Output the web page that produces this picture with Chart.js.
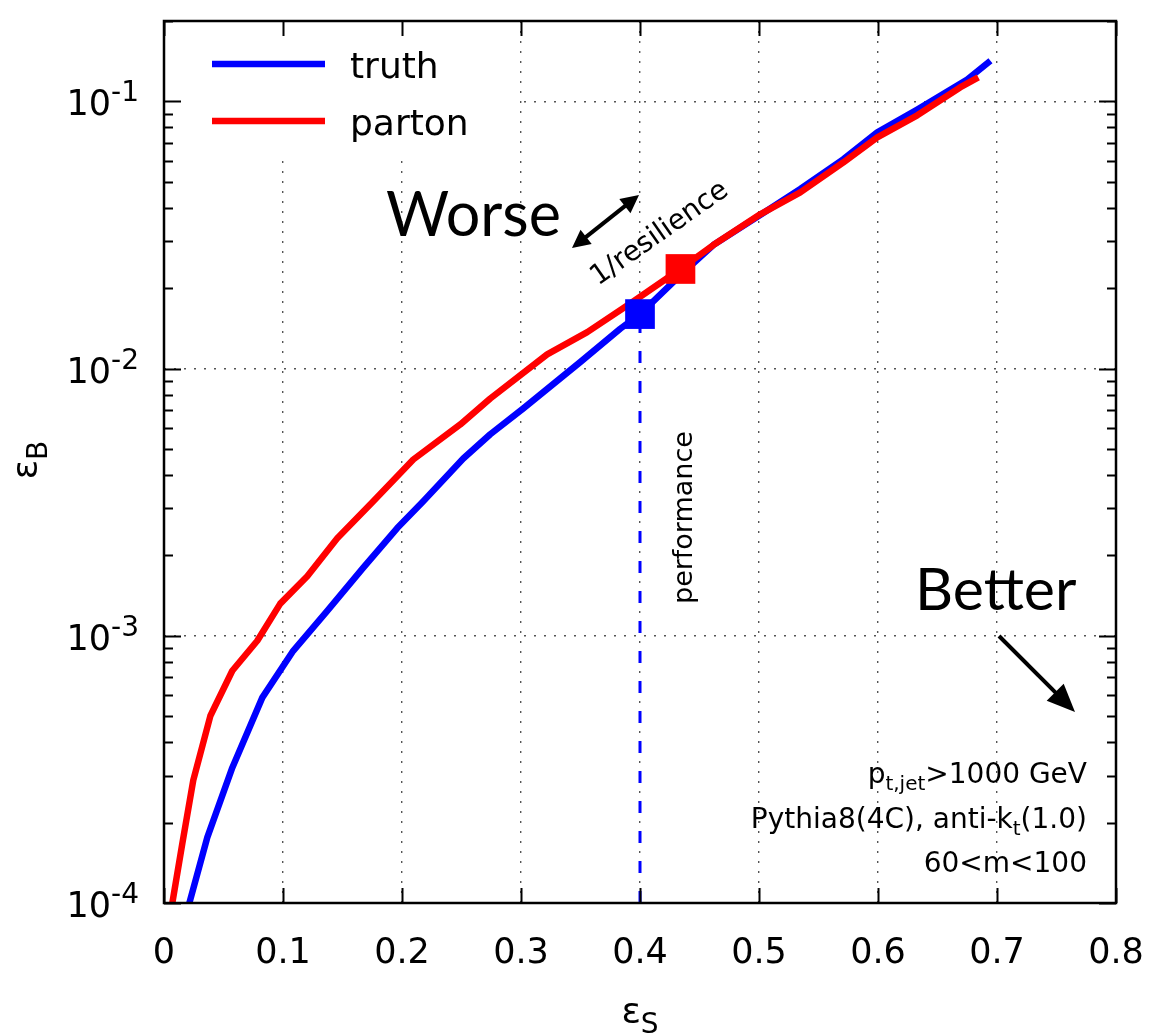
<!DOCTYPE html>
<html>
<head>
<meta charset="utf-8">
<script src="https://cdn.jsdelivr.net/npm/chart.js@4/dist/chart.umd.min.js"></script>
<style>
  html, body { margin: 0; padding: 0; background: #fff; }
  canvas { display: block; }
</style>
</head>
<body>
<canvas id="roc" width="1156" height="1035"></canvas>
<script>
// Signal efficiency (eps_S) and background efficiency (eps_B) along each curve
const truthEffS  = [0.0213, 0.0364, 0.0574, 0.0826, 0.1086, 0.1372, 0.1675, 0.196, 0.2179, 0.2515, 0.2742, 0.302, 0.350, 0.3834, 0.400, 0.434, 0.4616, 0.501, 0.5347, 0.571, 0.5994, 0.633, 0.675, 0.6945];
const truthEffB  = [1.0e-4, 1.76e-4, 3.21e-4, 5.87e-4, 8.79e-4, 1.24e-3, 1.80e-3, 2.53e-3, 3.19e-3, 4.61e-3, 5.68e-3, 7.10e-3, 1.06e-2, 1.41e-2, 1.60e-2, 2.24e-2, 2.90e-2, 3.76e-2, 4.70e-2, 6.08e-2, 7.66e-2, 9.33e-2, 0.1208, 0.142];
const partonEffS = [0.007, 0.0154, 0.0246, 0.039, 0.0574, 0.0784, 0.0977, 0.1204, 0.1456, 0.1759, 0.2095, 0.249, 0.2742, 0.322, 0.3557, 0.394, 0.434, 0.4616, 0.501, 0.5347, 0.571, 0.5994, 0.633, 0.669, 0.6843];
const partonEffB = [1.0e-4, 1.67e-4, 2.88e-4, 5.02e-4, 7.40e-4, 9.58e-4, 1.32e-3, 1.67e-3, 2.32e-3, 3.19e-3, 4.57e-3, 6.18e-3, 7.73e-3, 1.13e-2, 1.37e-2, 1.78e-2, 2.36e-2, 2.90e-2, 3.78e-2, 4.57e-2, 5.92e-2, 7.34e-2, 8.87e-2, 0.1128, 0.123];

// Working points (truth, parton)
const workingS = [0.400, 0.434];
const workingB = [0.0160, 0.0236];

const seriesNames  = ['truth', 'parton'];
const seriesColors = ['#0000ff', '#ff0000'];

// Axis ticks
const xTickValues = [0, 0.1, 0.2, 0.3, 0.4, 0.5, 0.6, 0.7, 0.8];
const xTickLabels = ['0', '0.1', '0.2', '0.3', '0.4', '0.5', '0.6', '0.7', '0.8'];
const yDecades    = [1e-4, 1e-3, 1e-2, 1e-1];
const yExponents  = ['-4', '-3', '-2', '-1'];

const FONT = '"DejaVu Sans", sans-serif';
const BIG  = 'Lato, "Open Sans", sans-serif';

const pairs = (xs, ys) => xs.map((x, i) => ({ x, y: ys[i] }));

// draw a run of text pieces (text, size, baseline shift) one after another
function textRuns(ctx, runs, x, y, align) {
  let total = 0;
  const widths = runs.map(r => {
    ctx.font = r[1] + 'px ' + FONT;
    const w = ctx.measureText(r[0]).width;
    total += w;
    return w;
  });
  let cx = align === 'right' ? x - total : align === 'center' ? x - total / 2 : x;
  ctx.textAlign = 'left';
  ctx.textBaseline = 'alphabetic';
  runs.forEach((r, i) => {
    ctx.font = r[1] + 'px ' + FONT;
    ctx.fillText(r[0], cx, y + r[2]);
    cx += widths[i];
  });
}

function arrowHead(ctx, x0, y0, x1, y1, len, half) {
  const a = Math.atan2(y1 - y0, x1 - x0);
  ctx.beginPath();
  ctx.moveTo(x1, y1);
  ctx.lineTo(x1 - len * Math.cos(a) + half * Math.sin(a), y1 - len * Math.sin(a) - half * Math.cos(a));
  ctx.lineTo(x1 - len * Math.cos(a) - half * Math.sin(a), y1 - len * Math.sin(a) + half * Math.cos(a));
  ctx.closePath();
  ctx.fill();
}

function arrowLine(ctx, x0, y0, x1, y1, len, half, both) {
  const a = Math.atan2(y1 - y0, x1 - x0);
  const sx = both ? x0 + (len - 2) * Math.cos(a) : x0;
  const sy = both ? y0 + (len - 2) * Math.sin(a) : y0;
  ctx.beginPath();
  ctx.moveTo(sx, sy);
  ctx.lineTo(x1 - (len - 2) * Math.cos(a), y1 - (len - 2) * Math.sin(a));
  ctx.stroke();
  arrowHead(ctx, x0, y0, x1, y1, len, half);
  if (both) arrowHead(ctx, x1, y1, x0, y0, len, half);
}

const decorations = {
  id: 'decorations',
  beforeDatasetsDraw(chart) {
    // white key panel over the grid
    const { ctx, chartArea: a } = chart;
    ctx.save();
    ctx.fillStyle = '#ffffff';
    ctx.fillRect(a.left + 1, a.top + 1, 352, 136);
    ctx.restore();
  },
  afterDraw(chart) {
    const { ctx, chartArea: a, scales: { x, y } } = chart;
    ctx.save();
    ctx.fillStyle = '#000';
    ctx.strokeStyle = '#000';

    // tick marks, pointing inwards on all four sides
    ctx.lineWidth = 2;
    ctx.beginPath();
    xTickValues.forEach(v => {
      const px = Math.round(x.getPixelForValue(v)) + 0.5;
      ctx.moveTo(px, a.bottom); ctx.lineTo(px, a.bottom - 15);
      ctx.moveTo(px, a.top);    ctx.lineTo(px, a.top + 15);
    });
    yDecades.forEach(d => {
      const py = Math.round(y.getPixelForValue(d)) + 0.5;
      ctx.moveTo(a.left, py);  ctx.lineTo(a.left + 17, py);
      ctx.moveTo(a.right, py); ctx.lineTo(a.right - 17, py);
      for (let m = 2; m <= 9; m++) {
        const v = m * d;
        if (v > y.max) break;
        const pm = Math.round(y.getPixelForValue(v)) + 0.5;
        ctx.moveTo(a.left, pm);  ctx.lineTo(a.left + 9, pm);
        ctx.moveTo(a.right, pm); ctx.lineTo(a.right - 9, pm);
      }
    });
    ctx.stroke();

    // frame
    ctx.lineWidth = 2.5;
    ctx.strokeRect(a.left, a.top, a.right - a.left, a.bottom - a.top);

    // x tick labels
    xTickValues.forEach((v, i) => {
      textRuns(ctx, [[xTickLabels[i], 35, 0]], x.getPixelForValue(v), a.bottom + 60, 'center');
    });
    // y tick labels as powers of ten
    yDecades.forEach((d, i) => {
      const py = y.getPixelForValue(d);
      textRuns(ctx, [['10', 35, 14], [yExponents[i], 28, 0]], a.left - 25, py, 'right');
    });

    // axis titles
    textRuns(ctx, [['\u03b5', 36, 0], ['S', 28, 10]], x.getPixelForValue(0.4), 1023, 'center');
    ctx.save();
    ctx.translate(37, 460);
    ctx.rotate(-Math.PI / 2);
    textRuns(ctx, [['\u03b5', 36, 0], ['B', 28, 10]], 0, 0, 'center');
    ctx.restore();

    // key
    chart.data.datasets.filter(ds => seriesNames.includes(ds.label)).forEach(ds => {
      const k = seriesNames.indexOf(ds.label);
      const ly = 64 + 57 * k;
      ctx.strokeStyle = ds.borderColor;
      ctx.lineWidth = 6.5;
      ctx.beginPath();
      ctx.moveTo(212, ly); ctx.lineTo(325, ly);
      ctx.stroke();
      ctx.fillStyle = '#000';
      textRuns(ctx, [[ds.label, 36, 0]], 350, ly + 14, 'left');
    });

    // Worse / Better labels and arrows
    ctx.fillStyle = '#000';
    ctx.strokeStyle = '#000';
    ctx.textAlign = 'left';
    ctx.textBaseline = 'alphabetic';
    ctx.font = '61px ' + BIG;
    ctx.fillText('Worse', 386, 236);
    ctx.font = '59px ' + BIG;
    ctx.fillText('Better', 915, 610);

    ctx.lineWidth = 4;
    arrowLine(ctx, 572, 248, 639, 195, 18, 9, true);
    arrowLine(ctx, 999, 636, 1075, 712, 28, 12, false);

    // 1/resilience along the diagonal
    ctx.save();
    ctx.translate(598, 286);
    ctx.rotate(-35 * Math.PI / 180);
    textRuns(ctx, [['1/resilience', 28, 0]], 0, 0, 'left');
    ctx.restore();

    // performance along the working point line
    ctx.save();
    ctx.translate(692, 604);
    ctx.rotate(-Math.PI / 2);
    textRuns(ctx, [['performance', 27, 0]], 0, 0, 'left');
    ctx.restore();

    // sample description
    const rx = 1087;
    textRuns(ctx, [['p', 28, 0], ['t,jet', 20, 7], ['>1000 GeV', 28, 0]], rx, 783, 'right');
    textRuns(ctx, [['Pythia8(4C), anti-k', 28, 0], ['t', 20, 7], ['(1.0)', 28, 0]], rx, 828, 'right');
    textRuns(ctx, [['60<m<100', 28, 0]], rx, 872, 'right');

    ctx.restore();
  }
};

const gridOpts = { color: '#555555', lineWidth: 1.4, drawTicks: false };
const borderOpts = { display: false, dash: [2, 8] };

new Chart(document.getElementById('roc'), {
  type: 'line',
  data: {
    datasets: [
      {
        label: 'parton working point',
        data: [{ x: workingS[1], y: workingB[1] }],
        showLine: false, pointStyle: 'rect', pointRadius: 21, pointBorderWidth: 0,
        backgroundColor: seriesColors[1], borderColor: seriesColors[1], order: 0
      },
      {
        label: 'truth working point',
        data: [{ x: workingS[0], y: workingB[0] }],
        showLine: false, pointStyle: 'rect', pointRadius: 21, pointBorderWidth: 0,
        backgroundColor: seriesColors[0], borderColor: seriesColors[0], order: 1
      },
      {
        label: seriesNames[1],
        data: pairs(partonEffS, partonEffB),
        borderColor: seriesColors[1], borderWidth: 6.5, pointRadius: 0,
        tension: 0, borderJoinStyle: 'round', order: 2
      },
      {
        label: seriesNames[0],
        data: pairs(truthEffS, truthEffB),
        borderColor: seriesColors[0], borderWidth: 6.5, pointRadius: 0,
        tension: 0, borderJoinStyle: 'round', order: 3
      },
      {
        label: 'performance',
        data: [{ x: workingS[0], y: yDecades[0] }, { x: workingS[0], y: workingB[0] }],
        borderColor: seriesColors[0], borderWidth: 3, borderDash: [12, 18], pointRadius: 0,
        order: 4
      }
    ]
  },
  options: {
    responsive: false,
    animation: false,
    devicePixelRatio: 1,
    layout: { padding: { left: 164, right: 40, top: 18, bottom: 132 } },
    plugins: { legend: { display: false }, tooltip: { enabled: false } },
    scales: {
      x: {
        type: 'linear', min: 0, max: 0.8,
        ticks: { display: false, stepSize: 0.1 },
        grid: gridOpts, border: borderOpts
      },
      y: {
        type: 'logarithmic', min: 1e-4, max: 0.2,
        ticks: { display: false },
        afterBuildTicks: s => { s.ticks = yDecades.map(v => ({ value: v })); },
        grid: gridOpts, border: borderOpts
      }
    }
  },
  plugins: [decorations]
});
</script>
</body>
</html>
